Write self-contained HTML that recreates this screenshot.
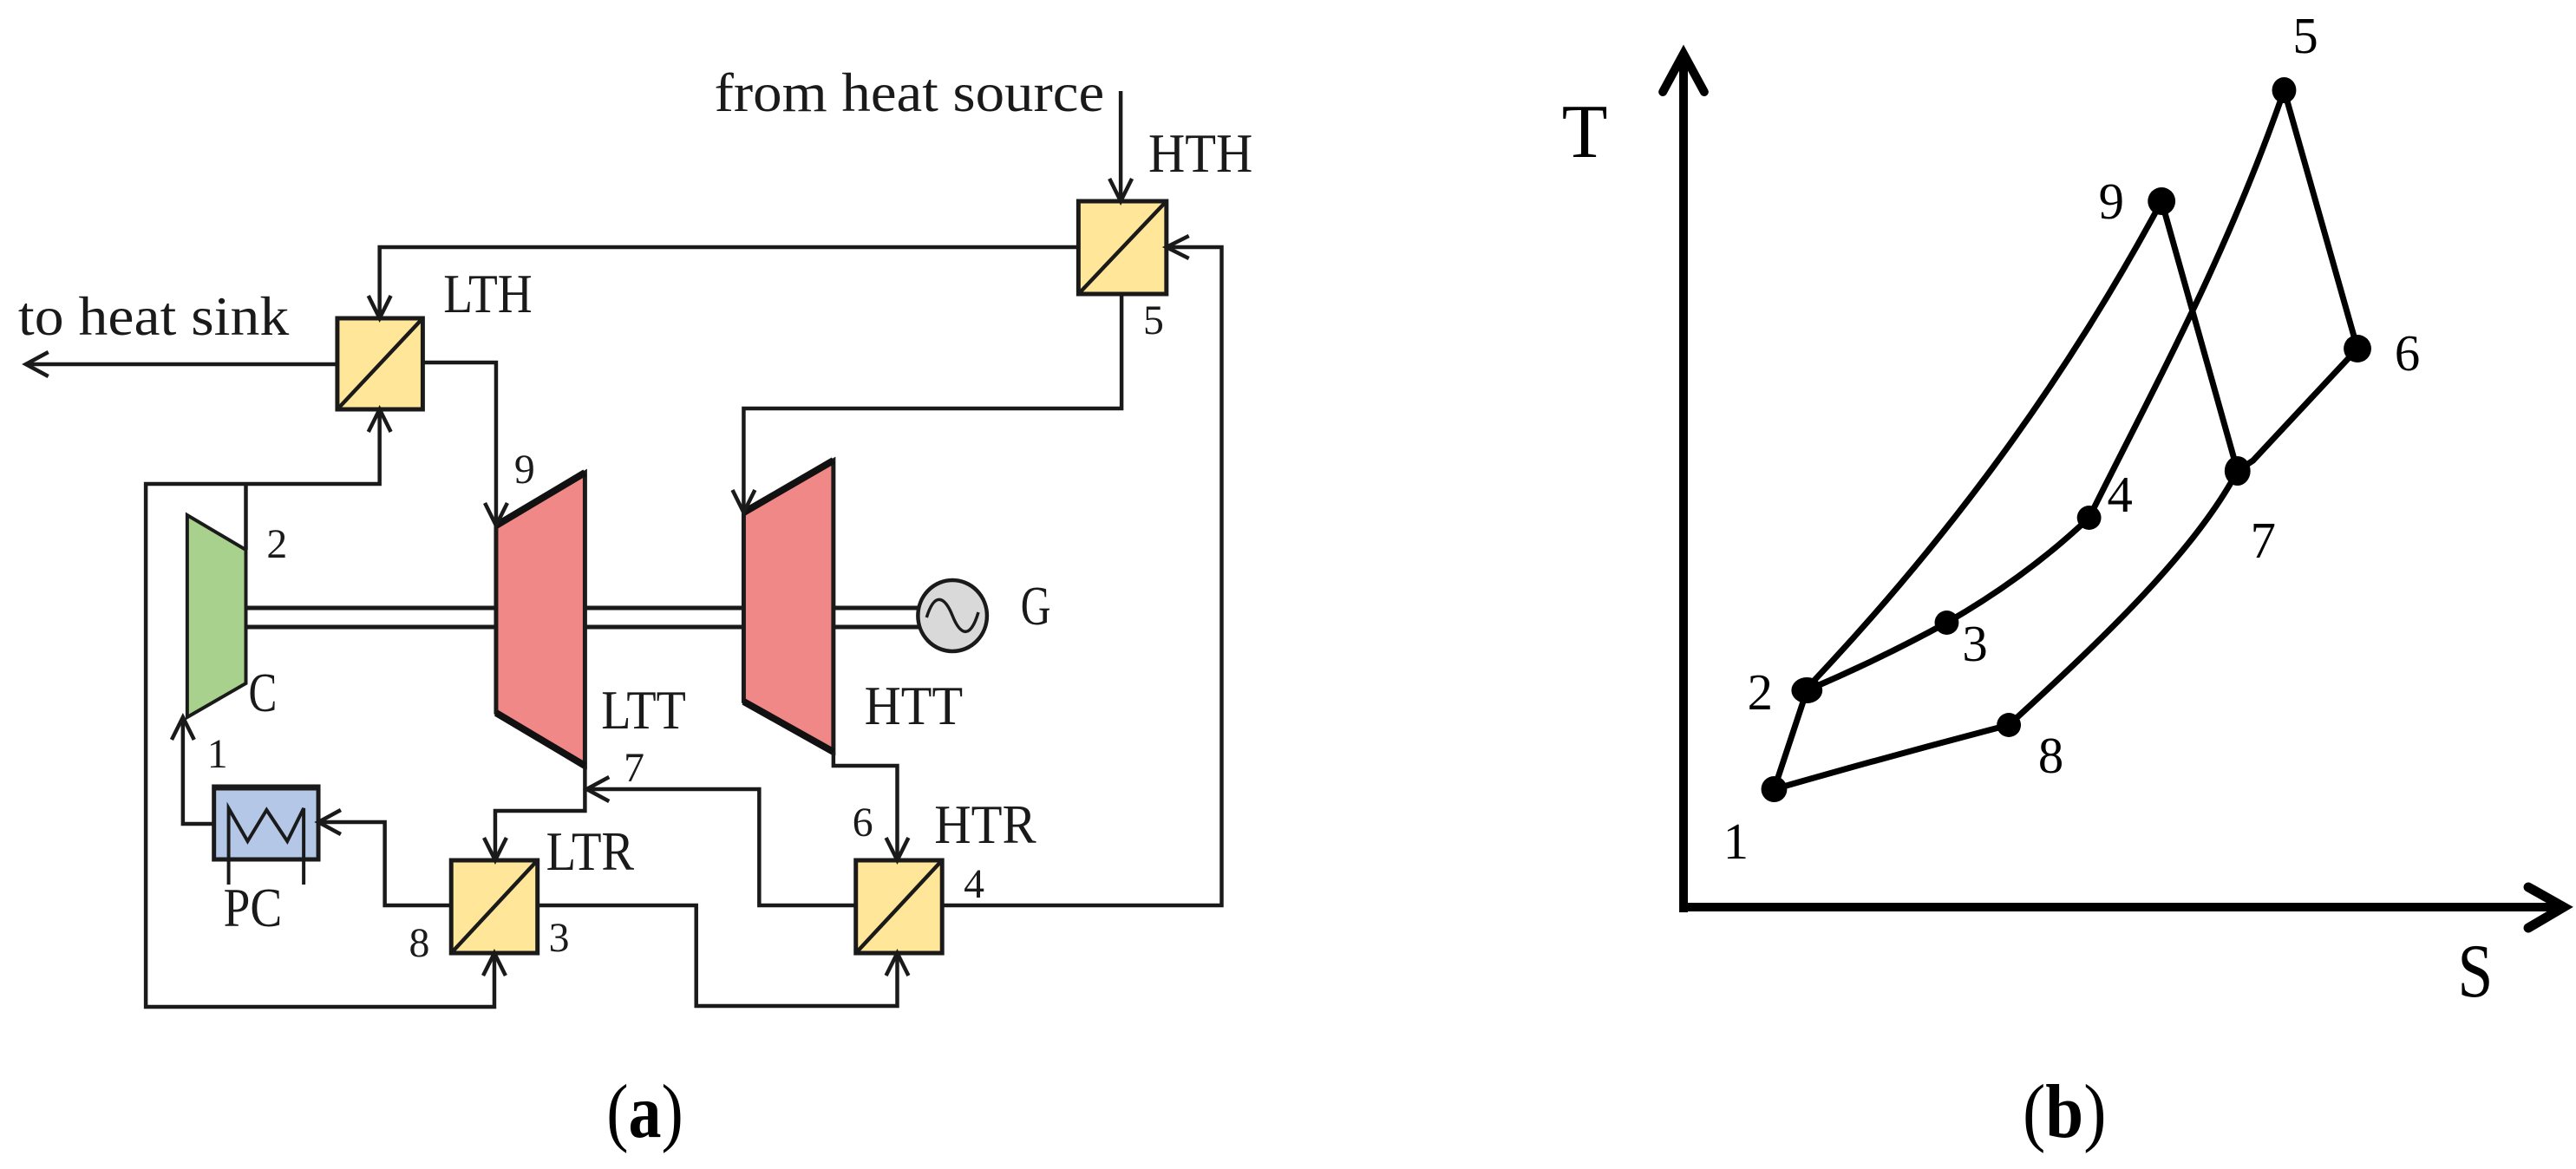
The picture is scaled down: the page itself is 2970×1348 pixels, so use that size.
<!DOCTYPE html>
<html><head><meta charset="utf-8">
<style>
html,body{margin:0;padding:0;background:#fff}
svg{display:block}
text{font-family:"Liberation Serif",serif;fill:#1a1a1a}
.a{fill:none;stroke:#1a1a1a;stroke-width:4.5}
.l{fill:none;stroke:#1a1a1a;stroke-width:4.5}
.c{fill:none;stroke:#000;stroke-width:7;stroke-linecap:round}
.b{fill:#ffe699;stroke:#1a1a1a;stroke-width:5}
.d{stroke:#1a1a1a;stroke-width:4.5}
.n{font-size:48px}
.t{font-size:64px}
.m{font-size:59px;fill:#000}
</style></head><body>
<svg width="2970" height="1348" viewBox="0 0 2970 1348" xmlns="http://www.w3.org/2000/svg">
<rect width="2970" height="1348" fill="#fff"/>
<g transform="scale(.9947 1)">
<!-- connectors -->
<path class="l" d="M1299,105V232"/>
<path class="l" d="M1250,285H440V367"/>
<path class="l" d="M1352,285H1416V1044H1092"/>
<path class="l" d="M1300,339V471H862V591"/>
<path class="l" d="M391,420H30"/>
<path class="l" d="M490,418H575V606"/>
<path class="l" d="M440,472V558H169V1161H573V1099"/>
<path class="l" d="M285,558V634"/>
<path class="l" d="M212,827V950H248"/>
<path class="l" d="M369,948H446V1044H523"/>
<path class="l" d="M678,883V935H574V992"/>
<path class="l" d="M680,910H880V1044H992"/>
<path class="l" d="M966,867V883H1040V992"/>
<path class="l" d="M623,1044H807V1160H1040V1099"/>
<!-- shafts -->
<path class="l" d="M285,701H575M285,723H575M678,701H862M678,723H862M966,701H1065M966,723H1065" style="stroke-width:5"/>
<!-- compressor / turbines -->
<polygon points="217,594 285,634 285,788 217,827" fill="#a9d18e" stroke="#1a1a1a" stroke-width="4"/>
<polygon points="575,606 678,545 678,883 575,822" fill="#f08888" stroke="#1a1a1a" stroke-width="5"/>
<polygon points="862,591 966,531 966,867 862,809" fill="#f08888" stroke="#1a1a1a" stroke-width="5"/>
<path d="M575,606L678,545M575,822L678,883M862,591L966,531M862,809L966,867" stroke="#111" stroke-width="8" fill="none"/>
<!-- generator -->
<ellipse cx="1104" cy="710" rx="40" ry="41" fill="#d9d9d9" stroke="#1a1a1a" stroke-width="4.5"/>
<path class="l" d="M1074,712C1084,680 1096,690 1104,710S1124,740 1134,706" style="stroke-width:3.5"/>
<!-- heat exchangers -->
<rect class="b" x="1250" y="232" width="102" height="107"/><path class="d" d="M1250,339L1352,232"/>
<rect class="b" x="391" y="367" width="99" height="105"/><path class="d" d="M391,472L490,367"/>
<rect class="b" x="523" y="992" width="100" height="107"/><path class="d" d="M523,1099L623,992"/>
<rect class="b" x="992" y="992" width="100" height="107"/><path class="d" d="M992,1099L1092,992"/>
<!-- precooler -->
<rect x="248" y="907" width="121" height="84" fill="#b4c7e7" stroke="#1a1a1a" stroke-width="5"/>
<path d="M246,908H371" stroke="#1a1a1a" stroke-width="7"/>
<path class="l" d="M265,1020V932L287,970L309,934L333,970L352,932V1020" style="stroke-width:4"/>
<!-- arrowheads -->
<path class="a" d="M1286,206L1299,232L1312,206"/>
<path class="a" d="M427,341L440,367L453,341"/>
<path class="a" d="M1378,272L1352,285L1378,298"/>
<path class="a" d="M56,406L30,420L56,434"/>
<path class="a" d="M849,565L862,591L875,565"/>
<path class="a" d="M562,580L575,606L588,580"/>
<path class="a" d="M427,498L440,472L453,498"/>
<path class="a" d="M199,853L212,827L225,853"/>
<path class="a" d="M395,934L369,948L395,962"/>
<path class="a" d="M561,966L574,992L587,966"/>
<path class="a" d="M706,896L680,910L706,924"/>
<path class="a" d="M1027,966L1040,992L1053,966"/>
<path class="a" d="M560,1125L573,1099L586,1125"/>
<path class="a" d="M1027,1125L1040,1099L1053,1125"/>
<!-- left labels -->
<text class="t" x="828" y="128" textLength="452" lengthAdjust="spacingAndGlyphs">from heat source</text>
<text class="t" x="21" y="386" textLength="314" lengthAdjust="spacingAndGlyphs">to heat sink</text>
<text class="t" x="1331" y="198" textLength="121" lengthAdjust="spacingAndGlyphs">HTH</text>
<text class="t" x="514" y="360" textLength="103" lengthAdjust="spacingAndGlyphs">LTH</text>
<text class="t" x="1183" y="720" textLength="35" lengthAdjust="spacingAndGlyphs">G</text>
<text class="t" x="288" y="820" textLength="33" lengthAdjust="spacingAndGlyphs">C</text>
<text class="t" x="697" y="840" textLength="98" lengthAdjust="spacingAndGlyphs">LTT</text>
<text class="t" x="1002" y="835" textLength="114" lengthAdjust="spacingAndGlyphs">HTT</text>
<text class="t" x="259" y="1068" textLength="68" lengthAdjust="spacingAndGlyphs">PC</text>
<text class="t" x="633" y="1003" textLength="102" lengthAdjust="spacingAndGlyphs">LTR</text>
<text class="t" x="1083" y="972" textLength="118" lengthAdjust="spacingAndGlyphs">HTR</text>
<text class="n" x="1325" y="385">5</text>
<text class="n" x="309" y="643">2</text>
<text class="n" x="596" y="557">9</text>
<text class="n" x="723" y="901">7</text>
<text class="n" x="240" y="885">1</text>
<text class="n" x="474" y="1103">8</text>
<text class="n" x="636" y="1097">3</text>
<text class="n" x="988" y="964">6</text>
<text class="n" x="1117" y="1035">4</text>
<text x="703" y="1311" font-size="88" textLength="89" lengthAdjust="spacingAndGlyphs" style="fill:#000">(<tspan font-weight="bold">a</tspan>)</text>
</g>
<g transform="translate(1750 0) scale(.9949 1) translate(-1750 0)">
<!-- T-S axes -->
<path d="M1942,1052V64M1942,1046H2960" fill="none" stroke="#000" stroke-width="10"/>
<path d="M1918,106L1942,62L1966,106" fill="none" stroke="#000" stroke-width="10" stroke-linecap="round"/>
<path d="M2921,1023L2962,1046L2921,1070" fill="none" stroke="#000" stroke-width="11" stroke-linecap="round"/>
<text x="1801" y="181" font-size="88" textLength="53" lengthAdjust="spacingAndGlyphs" style="fill:#000">T</text>
<text x="2839" y="1149" font-size="88" textLength="41" lengthAdjust="spacingAndGlyphs" style="fill:#000">S</text>
<!-- cycle curves -->
<path class="c" d="M2094,784C2230,640 2372,462 2496,232"/>
<path class="c" d="M2412,597C2480,460 2570,300 2638,104"/>
<path class="c" d="M2638,104L2723,402"/>
<path class="c" d="M2496,232L2584,543"/>
<path class="c" d="M2723,402L2602,531L2584,543"/>
<path class="c" d="M2584,543C2535,635 2430,735 2319,836"/>
<path class="c" d="M2319,836Q2180,872 2047,910"/>
<path class="c" d="M2047,910L2085,796"/>
<path class="c" d="M2085,796Q2170,760 2247,718Q2340,665 2412,597"/>
<!-- points -->
<g fill="#000">
<ellipse cx="2638" cy="104" rx="14" ry="15"/>
<ellipse cx="2496" cy="232" rx="16" ry="16"/>
<ellipse cx="2723" cy="402" rx="16" ry="16"/>
<ellipse cx="2584" cy="543" rx="15" ry="17"/>
<ellipse cx="2412" cy="597" rx="14" ry="14"/>
<ellipse cx="2247" cy="718" rx="14" ry="14"/>
<ellipse cx="2085" cy="796" rx="18" ry="15"/>
<ellipse cx="2319" cy="836" rx="14" ry="14"/>
<ellipse cx="2047" cy="910" rx="15" ry="15"/>
</g>
<text class="m" x="2648" y="61">5</text>
<text class="m" x="2423" y="252">9</text>
<text class="m" x="2766" y="427">6</text>
<text class="m" x="2433" y="590">4</text>
<text class="m" x="2599" y="643">7</text>
<text class="m" x="2265" y="762">3</text>
<text class="m" x="2016" y="818">2</text>
<text class="m" x="2353" y="891">8</text>
<text class="m" x="1988" y="990">1</text>
<text x="2335" y="1311" font-size="88" textLength="97" lengthAdjust="spacingAndGlyphs" style="fill:#000">(<tspan font-weight="bold">b</tspan>)</text>
</g>
</svg>
</body></html>
